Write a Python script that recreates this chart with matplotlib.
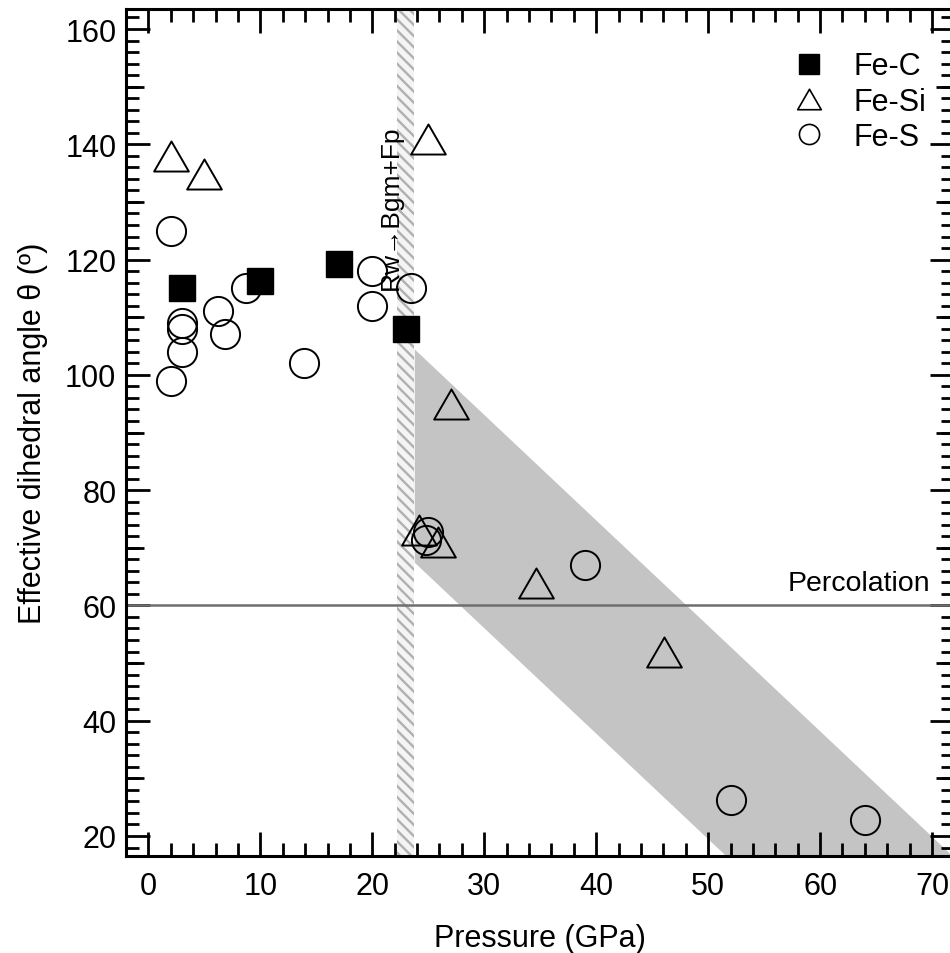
import matplotlib
matplotlib.use("Agg")
import matplotlib.pyplot as plt
from matplotlib.lines import Line2D
from matplotlib.path import Path
from matplotlib.ticker import MultipleLocator, FixedLocator

plt.rcParams['font.family'] = ['Liberation Sans', 'DejaVu Sans']
plt.rcParams['hatch.linewidth'] = 1.7

# ---- data ----
fe_c_p = [3, 10, 17, 23]
fe_c_theta = [115, 116.3, 119.2, 108]

fe_si_p = [2, 5, 25, 27, 24.2, 25.9, 34.6, 46.1]
fe_si_theta = [137.9, 134.8, 140.9, 94.9, 73.0, 71.0, 63.9, 52.0]

fe_s_p = [2, 3, 3, 3, 2, 6.2, 6.8, 8.75, 13.9, 20, 20, 23.5, 25.0, 24.8, 39, 52, 64]
fe_s_theta = [125, 109, 108, 104, 99, 111.1, 107.1, 115, 102.1, 118, 112, 115,
              72.8, 71.3, 67, 26.2, 22.8]

shade_p = [23.75, 80]
shade_upper = [104.5, 1.6]
shade_lower = [67.5, -35.4]

transition_p = [22.2, 23.75]
transition_label = "Rw\u2192Bgm+Fp"
percolation = 60

x_ticks = [0, 10, 20, 30, 40, 50, 60, 70]
y_ticks = [20, 40, 60, 80, 100, 120, 140, 160]
y_mid_ticks = [30, 50, 70, 90, 110, 130, 150]

# ---- figure ----
fig = plt.figure(figsize=(9.5, 9.54), dpi=100)
ax = fig.add_axes([126 / 950, 1 - 857 / 954, 828.4 / 950, 847 / 954])

tri = Path([(-1, -0.866), (1, -0.866), (0, 0.866), (-1, -0.866)],
           [Path.MOVETO, Path.LINETO, Path.LINETO, Path.CLOSEPOLY])

ax.fill_between(shade_p, shade_lower, shade_upper, color='#c4c4c4', lw=0, zorder=1)
ax.axvspan(transition_p[0], transition_p[1], facecolor='#f4f4f4',
           edgecolor='#b0b0b0', hatch='\\\\\\', lw=0, zorder=1.5)
ax.axhline(percolation, color='#6e6e6e', lw=1.8, zorder=2)
ax.text(69.8, percolation + 1.6, "Percolation", ha='right', va='bottom',
        fontsize=20.5, zorder=3)
ax.text(21.7, 114.9, transition_label, rotation=90, ha='center', va='bottom',
        fontsize=19, zorder=3)

ax.plot(fe_c_p, fe_c_theta, ls='none', marker='s', ms=19, mfc='black',
        mec='black', mew=1, zorder=4)
ax.plot(fe_si_p, fe_si_theta, ls='none', marker=tri, ms=25, mfc='none',
        mec='black', mew=1.4, zorder=4)
ax.plot(fe_s_p, fe_s_theta, ls='none', marker='o', ms=21, mfc='none',
        mec='black', mew=1.4, zorder=4)

handles = [
    Line2D([], [], ls='none', marker='s', ms=15, mfc='black', mec='black'),
    Line2D([], [], ls='none', marker=tri, ms=17, mfc='none', mec='black', mew=1.2),
    Line2D([], [], ls='none', marker='o', ms=14.5, mfc='none', mec='black', mew=1.2),
]
ax.legend(handles, ["Fe-C", "Fe-Si", "Fe-S"], loc='upper right',
          bbox_to_anchor=(0.966, 0.950), frameon=False, fontsize=22,
          handlelength=1.0, handletextpad=0.95, labelspacing=0.17,
          borderpad=0, borderaxespad=0)

ax.set_xlim(-2, 72)
ax.set_ylim(16.53, 163.47)

ax2 = ax.twinx()
ax2.set_ylim(ax.get_ylim())
ax2.yaxis.set_major_locator(FixedLocator(y_mid_ticks))
ax2.yaxis.set_minor_locator(FixedLocator([]))
ax2.tick_params(axis='y', which='major', direction='in', left=True, right=True,
                labelleft=False, labelright=False, length=13, width=2)
for s in ax2.spines.values():
    s.set_visible(False)
ax2.xaxis.set_visible(False)

ax.xaxis.set_major_locator(FixedLocator(x_ticks))
ax.xaxis.set_minor_locator(MultipleLocator(2))
ax.yaxis.set_major_locator(FixedLocator(y_ticks))
ax.yaxis.set_minor_locator(MultipleLocator(2))
ax.tick_params(which='both', direction='in', top=True, bottom=True,
               left=True, right=True, width=2, labelsize=22)
ax.tick_params(which='major', length=17.5)
ax.tick_params(which='minor', length=9.4)
ax.tick_params(axis='y', which='major', pad=7, labelleft=True, labelright=False)
ax.tick_params(axis='x', which='major', pad=11, labelbottom=True, labeltop=False)
for s in ax.spines.values():
    s.set_linewidth(2.2)

ax.set_xlabel("Pressure (GPa)", fontsize=22, labelpad=16)
ax.set_ylabel("Effective dihedral angle \u03b8 (\u00ba)", fontsize=22, labelpad=12)

fig.savefig("out.png", dpi=100)
